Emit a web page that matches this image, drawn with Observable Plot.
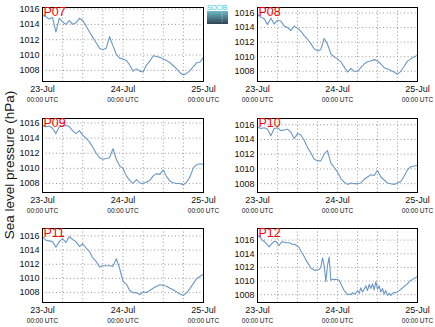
<!DOCTYPE html>
<html>
<head>
<meta charset="utf-8">
<script src="https://cdn.jsdelivr.net/npm/d3@7"></script>
<script src="https://cdn.jsdelivr.net/npm/@observablehq/plot@0.6"></script>
<style>
  html, body { margin: 0; padding: 0; background: #fff; }
  #wrap { position: relative; width: 435px; height: 327px; overflow: hidden; font-family: "Liberation Sans", Arial, sans-serif; }
  .pan { position: absolute; }
  .pan svg { overflow: visible; }
</style>
</head>
<body>
<div id="wrap"></div>
<script>
// ---- data (hours since 23-Jul 00:00 UTC) ----
const dayTicks = [0, 24, 48];
const dayLabels = ["23-Jul", "24-Jul", "25-Jul"];
const subLabel = "00:00 UTC";
const gridHours = [6, 12, 18, 24, 30, 36, 42];
const yTicks = [1008, 1010, 1012, 1014, 1016];
const yLabel = "Sea level pressure (hPa)";
const names = ["P07", "P08", "P09", "P10", "P11", "P12"];

const hoursHourly = d3.range(0, 49, 1);
const hoursHalf = d3.range(0, 48.5, 0.5);

const P07 = [1015.2,1015.0,1014.7,1014.9,1013.0,1014.8,1014.3,1014.0,1014.5,1014.0,1014.2,1014.8,1014.5,1013.8,1013.0,1012.3,1011.6,1010.9,1010.7,1010.9,1012.4,1011.2,1010.1,1009.6,1009.5,1009.3,1008.7,1007.9,1008.2,1007.9,1007.8,1008.7,1009.2,1009.9,1009.8,1009.7,1009.5,1009.3,1009.0,1008.6,1008.2,1007.7,1007.4,1007.6,1008.0,1008.5,1009.0,1009.1,1009.7];
const P08 = [1015.8,1015.4,1015.2,1014.4,1015.3,1014.5,1015.0,1014.9,1014.2,1014.0,1013.6,1014.2,1013.9,1013.5,1012.9,1012.4,1011.8,1011.1,1010.8,1011.0,1012.5,1011.7,1010.4,1010.0,1009.7,1009.3,1008.6,1007.9,1008.4,1008.0,1008.0,1008.5,1009.0,1009.3,1009.4,1009.6,1009.4,1009.0,1008.5,1008.3,1008.1,1007.9,1007.6,1008.0,1008.7,1009.4,1009.7,1010.0,1010.2];
const P09 = [1015.7,1015.5,1015.6,1015.3,1014.6,1015.5,1015.6,1015.7,1015.5,1015.0,1014.6,1015.0,1014.4,1014.0,1013.5,1012.8,1012.0,1011.4,1011.2,1011.3,1011.4,1012.6,1011.2,1010.3,1010.0,1009.0,1008.4,1008.0,1008.5,1008.1,1008.0,1008.2,1008.4,1009.0,1009.3,1009.2,1009.8,1008.9,1008.3,1008.1,1008.0,1008.0,1007.8,1008.2,1008.9,1010.1,1010.5,1010.6,1010.5];
const P10 = [1015.7,1015.5,1015.6,1015.4,1014.5,1015.5,1015.6,1015.2,1015.3,1015.4,1015.0,1014.1,1014.8,1014.6,1013.9,1012.9,1012.2,1011.3,1011.1,1011.1,1012.0,1012.5,1010.8,1010.2,1009.6,1008.7,1008.2,1007.9,1008.1,1008.0,1008.0,1008.1,1008.6,1008.9,1009.2,1009.1,1009.8,1008.9,1008.5,1008.1,1008.0,1007.9,1008.1,1008.3,1009.0,1009.9,1010.3,1010.4,1010.5];
const P11 = [1015.9,1015.4,1015.3,1015.2,1014.4,1015.2,1015.6,1015.1,1015.9,1015.5,1015.2,1014.5,1014.9,1014.3,1013.8,1012.9,1012.4,1011.6,1011.8,1011.8,1011.8,1011.7,1012.8,1011.4,1009.6,1009.2,1008.3,1008.0,1008.0,1007.7,1008.1,1008.0,1008.3,1008.6,1008.9,1009.1,1009.0,1008.9,1008.6,1008.4,1008.1,1007.8,1007.6,1008.0,1008.6,1009.3,1010.0,1010.3,1010.6];
const P12 = [1016.75,1016.5,1016.3,1016.0,1015.8,1015.6,1015.3,1015.0,1015.3,1015.6,1015.8,1015.8,1015.5,1015.2,1015.6,1015.8,1015.7,1015.6,1015.6,1015.6,1015.5,1015.4,1015.4,1015.3,1015.1,1014.9,1014.4,1014.0,1013.6,1013.1,1012.7,1012.3,1011.9,1011.8,1011.6,1011.6,1011.6,1011.7,1012.0,1013.4,1012.3,1009.9,1012.3,1013.5,1010.1,1010.25,1010.2,1010.25,1010.2,1010.1,1009.6,1009.1,1008.6,1008.3,1008.0,1008.1,1008.0,1008.3,1008.1,1008.2,1008.6,1008.2,1009.0,1008.4,1008.8,1009.3,1008.6,1009.5,1008.9,1009.6,1008.7,1009.9,1008.8,1009.3,1008.4,1008.9,1008.1,1008.6,1007.9,1008.2,1007.9,1008.2,1008.3,1008.3,1008.4,1008.6,1008.8,1009.0,1009.2,1009.4,1009.6,1009.9,1010.1,1010.2,1010.4,1010.5,1010.65];

const yDomains = [[1006.55, 1016.2], [1006.6, 1016.75], [1006.8, 1016.6], [1006.8, 1016.85], [1006.6, 1017.05], [1006.85, 1017.7]];

// ---- layout ----
const series = [P07, P08, P09, P10, P11, P12];
const seriesHours = [hoursHourly, hoursHourly, hoursHourly, hoursHourly, hoursHourly, hoursHalf];
const frameLeft = [42, 257];
const frameTop = [7, 118, 228];
const frameW = [161, 160];
const frameH = 74;
const mL = 34, mR = 18, mT = 8, mB = 30;
const FONT = '"Liberation Sans", Arial, sans-serif';

const wrap = document.getElementById("wrap");

series.forEach((vals, i) => {
  const col = i % 2, row = Math.floor(i / 2);
  const data = seriesHours[i].map((h, k) => ({h, v: vals[k]}));
  const chart = Plot.plot({
    width: frameW[col] + mL + mR,
    height: frameH + mT + mB,
    marginLeft: mL, marginRight: mR, marginTop: mT, marginBottom: mB,
    style: {fontFamily: FONT, background: "transparent", overflow: "visible"},
    x: {domain: [0, 48], axis: null},
    y: {domain: yDomains[i], axis: null},
    marks: [
      Plot.ruleX(gridHours, {stroke: "#9a9a9a", strokeDasharray: "1,2.5"}),
      Plot.ruleY(yTicks, {stroke: "#9a9a9a", strokeDasharray: "1,2.5"}),
      Plot.line(data, {x: "h", y: "v", stroke: "#6b98c4", strokeWidth: 1.1}),
      Plot.frame({stroke: "#000", strokeWidth: 1}),
      Plot.text(yTicks, {frameAnchor: "left", y: d => d, text: d => String(d), textAnchor: "end", dx: -3, fontSize: 9, fill: "#111"}),
      Plot.text(dayTicks, {x: d => d, frameAnchor: "bottom", dy: 8, text: (d, k) => dayLabels[k], fontSize: 9, fill: "#111", lineAnchor: "middle"}),
      Plot.text(dayTicks, {x: d => d, frameAnchor: "bottom", dy: 18, text: () => subLabel, fontSize: 6.5, fill: "#111", lineAnchor: "middle"}),
      Plot.text([names[i]], {frameAnchor: "top-left", text: d => d, dx: 1, dy: 0, fill: "#ff0000", fontSize: 12.5, textAnchor: "start", lineAnchor: "top"})
    ]
  });
  const div = document.createElement("div");
  div.className = "pan";
  div.style.left = (frameLeft[col] - mL) + "px";
  div.style.top = (frameTop[row] - mT) + "px";
  div.appendChild(chart);
  wrap.appendChild(div);
});

// y label and logo overlay
const ns = "http://www.w3.org/2000/svg";
const ov = document.createElementNS(ns, "svg");
ov.setAttribute("width", 435); ov.setAttribute("height", 327);
ov.style.position = "absolute"; ov.style.left = "0"; ov.style.top = "0"; ov.style.pointerEvents = "none";
ov.innerHTML = `
  <defs><linearGradient id="lg" x1="0" y1="0" x2="0" y2="1">
    <stop offset="0" stop-color="#6fb9c6"/><stop offset="1" stop-color="#2f4352"/></linearGradient></defs>
  <text x="217" y="9.5" text-anchor="middle" font-family='${FONT}' font-size="7" fill="#4cc3d9" letter-spacing="-0.3">SOCIB</text>
  <rect x="207" y="11" width="21" height="13" fill="url(#lg)"/>
  <line x1="222" y1="13" x2="222" y2="22" stroke="#ffffff" stroke-opacity="0.7" stroke-dasharray="1,1.5"/>
  <text transform="translate(14,165) rotate(-90)" text-anchor="middle" font-family='${FONT}' font-size="13.5" fill="#111">${yLabel}</text>
`;
wrap.appendChild(ov);
</script>
</body>
</html>
